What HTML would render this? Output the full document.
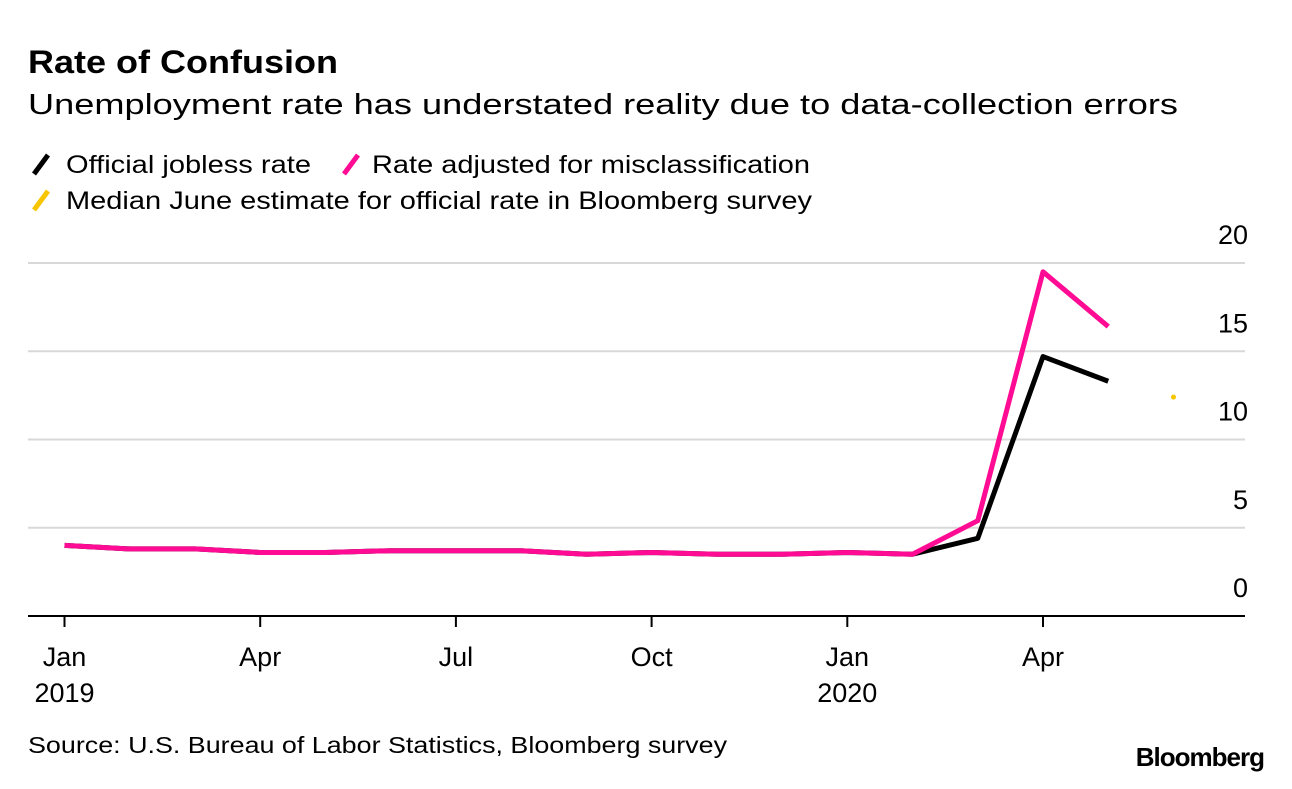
<!DOCTYPE html>
<html><head><meta charset="utf-8"><style>
body{margin:0;background:#fff;width:1292px;height:784px;overflow:hidden;font-family:"Liberation Sans",Arial,sans-serif;color:#000}
</style></head><body>
<svg width="1292" height="784" xmlns="http://www.w3.org/2000/svg" font-family="Liberation Sans, Arial, sans-serif">
<text x="28" y="73" font-size="32" font-weight="bold" textLength="310" lengthAdjust="spacingAndGlyphs">Rate of Confusion</text>
<text x="28" y="114" font-size="29" textLength="1150" lengthAdjust="spacingAndGlyphs">Unemployment rate has understated reality due to data-collection errors</text>
<g>
<line x1="34" y1="174" x2="48" y2="155" stroke="#000" stroke-width="5"/>
<text x="66" y="173" font-size="25" textLength="245" lengthAdjust="spacingAndGlyphs">Official jobless rate</text>
<line x1="344" y1="174" x2="358" y2="155" stroke="#ff0b94" stroke-width="5"/>
<text x="372" y="173" font-size="25" textLength="438" lengthAdjust="spacingAndGlyphs">Rate adjusted for misclassification</text>
<line x1="34" y1="210" x2="48" y2="191" stroke="#f7c600" stroke-width="5"/>
<text x="66" y="209" font-size="25" textLength="746" lengthAdjust="spacingAndGlyphs">Median June estimate for official rate in Bloomberg survey</text>
</g>
<g id="grid"></g>
<g id="marks"></g>
<text x="28" y="753" font-size="23" textLength="699" lengthAdjust="spacingAndGlyphs">Source: U.S. Bureau of Labor Statistics, Bloomberg survey</text>
<text x="1264" y="766" font-size="26" font-weight="bold" text-anchor="end" letter-spacing="-1">Bloomberg</text>
</svg>
<script>
const official=[4.0,3.8,3.8,3.6,3.6,3.7,3.7,3.7,3.5,3.6,3.5,3.5,3.6,3.5,4.4,14.7,13.3];
const adjusted=[4.0,3.8,3.8,3.6,3.6,3.7,3.7,3.7,3.5,3.6,3.5,3.5,3.6,3.5,5.4,19.5,16.4];
const estimateMonth=[17];
const estimateValue=[12.4];
const yTicks=[0,5,10,15,20];
const xTickMonths=[0,3,6,9,12,15];
const xTickLabels=["Jan","Apr","Jul","Oct","Jan","Apr"];
const xTickYears=["2019","","","","2020",""];
const NS="http://www.w3.org/2000/svg";
const x=m=>64.5+m*(1043-64.5)/15;
const y=v=>616-v*(616-263)/20;
function mk(tag,attrs,parent){const e=document.createElementNS(NS,tag);for(const k in attrs)e.setAttribute(k,attrs[k]);parent.appendChild(e);return e;}
const grid=document.getElementById('grid'),marks=document.getElementById('marks');
yTicks.forEach(v=>{
 if(v>0){const l=mk('line',{x1:28,x2:1245,y1:y(v),y2:y(v),stroke:'#d8d8d8','stroke-width':2},grid);
 
 }
 const t=mk('text',{x:1248,y:y(v)-19,'font-size':27,'text-anchor':'end'},grid);t.textContent=v;
 
 
});
const ax=mk('line',{x1:28,x2:1245,y1:616,y2:616,stroke:'#000','stroke-width':2},grid);


xTickMonths.forEach((m,i)=>{
 const tk=mk('line',{x1:x(m),x2:x(m),y1:616,y2:627,stroke:'#000','stroke-width':2},grid);
 
 
 const t=mk('text',{x:x(m),y:666,'font-size':27,'text-anchor':'middle'},grid);t.textContent=xTickLabels[i];
 
 
 if(xTickYears[i]){const t2=mk('text',{x:x(m),y:702,'font-size':27,'text-anchor':'middle'},grid);t2.textContent=xTickYears[i];
 
 }
});
const pts=a=>a.map((v,i)=>x(i)+','+y(v)).join(' ');
const l1=mk('polyline',{points:pts(official),fill:'none',stroke:'#000','stroke-width':5,'stroke-linejoin':'round'},marks);


const l2=mk('polyline',{points:pts(adjusted),fill:'none',stroke:'#ff0b94','stroke-width':5,'stroke-linejoin':'round'},marks);


estimateMonth.forEach((m,i)=>{
 const c=mk('circle',{cx:x(m),cy:y(estimateValue[i]),r:2.5,fill:'#f7c600'},marks);
 
 
});
</script>
</body></html>
